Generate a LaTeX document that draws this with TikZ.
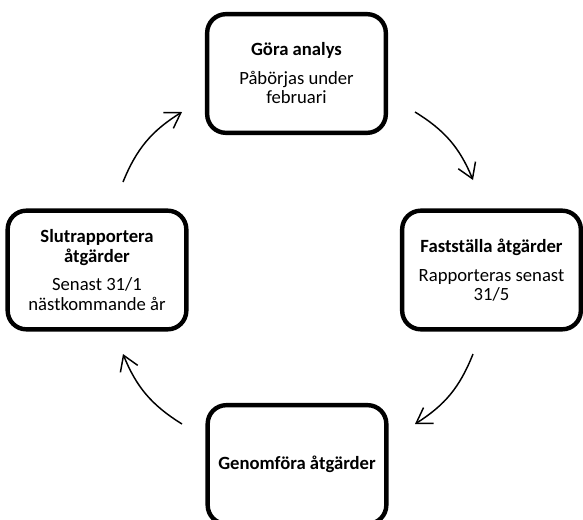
\documentclass[tikz,border=0pt]{standalone}
\usepackage{fontspec}
\setmainfont{Carlito}
\usepackage{tikz}
\usetikzlibrary{arrows.meta}
\tikzset{>={Straight Barb[length=11pt,width=14pt]}}
\tikzset{stagebox/.style={draw, line width=3.3pt, rounded corners=14pt, minimum width=134pt, minimum height=89pt, align=center, font=\fontsize{14}{14.5}\selectfont, inner sep=2pt}}
\tikzset{cyclearr/.style={->, line width=1.1pt, bend left=18}}

\begin{document}
\begin{tikzpicture}[x=0.75pt,y=-0.75pt]
				\useasboundingbox (0,0) rectangle (583,519);
				\node[stagebox] (analys) at (296.5,73.5) {\textbf{Göra analys}\\[7pt]Påbörjas under\\februari};
				\node[stagebox] (faststall) at (491.5,270) {\textbf{Fastställa åtgärder}\\[7pt]Rapporteras senast\\31/5};
				\node[stagebox] (genomfor) at (297,464.5) {\textbf{Genomföra åtgärder}};
				\node[stagebox] (slutrapp) at (97,270) {\textbf{Slutrapportera}\\\textbf{åtgärder}\\[7pt]Senast 31/1\\nästkommande år};

				% arrow ends
				\coordinate (slut-out) at (123,182);
				\coordinate (anal-in) at (182,112);
				\coordinate (anal-out) at (415,112);
				\coordinate (fast-in) at (473,180);
				\coordinate (fast-out) at (473,354);
				\coordinate (genom-in) at (415,424);
				\coordinate (genom-out) at (182,424);
				\coordinate (slut-in) at (123,354);

				\draw[cyclearr] (slut-out) to (anal-in);
				\draw[cyclearr] (anal-out) to (fast-in);
				\draw[cyclearr] (fast-out) to (genom-in);
				\draw[cyclearr] (genom-out) to (slut-in);
			\end{tikzpicture}
\end{document}
